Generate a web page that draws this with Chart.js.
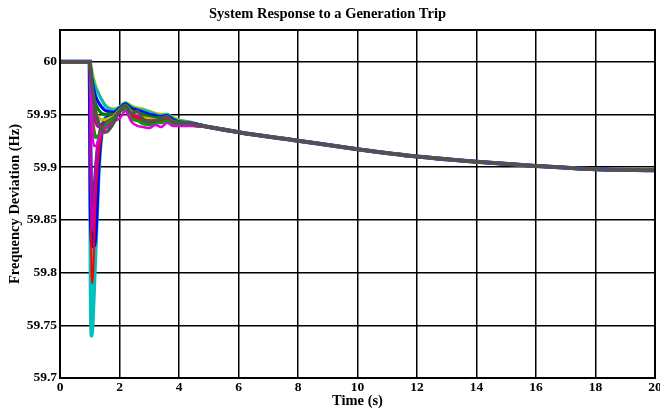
<!DOCTYPE html>
<html lang="en">
<head>
    <meta charset="UTF-8">
    <title>System Response to a Generation Trip</title>
    <script src="https://cdn.jsdelivr.net/npm/chart.js"></script>
    <style>
        body {
            margin: 0;
            background-color: white;
        }
    </style>
</head>
<body>
    <canvas id="freqChart" width="660" height="413"></canvas>

    <script>
        // time points (s) for the transient part, then the slow tail
        const times = [0, 1, 1.03, 1.06, 1.1, 1.15, 1.2, 1.3, 1.4, 1.5, 1.6, 1.8, 2.0, 2.2, 2.4, 2.6, 2.8, 3.0, 3.2, 3.4, 3.6, 3.8, 4.0, 4.3, 4.6];
        const tailTimes = [5, 6, 8, 10, 12, 14, 16, 18, 20];
        const tail = [59.938, 59.933, 59.925, 59.917, 59.910, 59.905, 59.901, 59.898, 59.897];

        const xTicks = [0, 2, 4, 6, 8, 10, 12, 14, 16, 18, 20];
        const yTicks = [59.7, 59.75, 59.8, 59.85, 59.9, 59.95, 60];
        const yTickLabels = ['59.7', '59.75', '59.8', '59.85', '59.9', '59.95', '60'];

        // bus frequencies (Hz)
        const gray = [60, 60, 59.992, 59.982, 59.972, 59.962, 59.952, 59.942, 59.936, 59.933, 59.934, 59.942, 59.953, 59.958, 59.951, 59.953, 59.945, 59.943, 59.944, 59.946, 59.948, 59.943, 59.942, 59.942, 59.940];
        const yellowTop = [60, 60, 59.998, 59.994, 59.988, 59.982, 59.977, 59.970, 59.964, 59.960, 59.957, 59.955, 59.957, 59.961, 59.958, 59.956, 59.955, 59.953, 59.951, 59.950, 59.950, 59.947, 59.945, 59.943, 59.941];
        const cyanTop = [60, 60, 59.996, 59.990, 59.984, 59.979, 59.975, 59.969, 59.964, 59.959, 59.956, 59.954, 59.957, 59.961, 59.957, 59.955, 59.954, 59.952, 59.950, 59.949, 59.950, 59.946, 59.944, 59.943, 59.941];
        const blueTop = [60, 60, 59.994, 59.986, 59.979, 59.972, 59.967, 59.961, 59.957, 59.954, 59.953, 59.952, 59.956, 59.960, 59.956, 59.954, 59.952, 59.950, 59.949, 59.948, 59.949, 59.945, 59.943, 59.942, 59.941];
        const greenTop = [60, 60, 59.992, 59.982, 59.973, 59.965, 59.960, 59.954, 59.951, 59.950, 59.950, 59.950, 59.955, 59.959, 59.954, 59.952, 59.950, 59.948, 59.947, 59.947, 59.948, 59.944, 59.943, 59.942, 59.940];
        const yellowMid = [60, 60, 59.990, 59.977, 59.966, 59.957, 59.952, 59.947, 59.945, 59.945, 59.946, 59.948, 59.954, 59.958, 59.952, 59.950, 59.947, 59.946, 59.945, 59.945, 59.947, 59.943, 59.942, 59.941, 59.940];
        const magentaMid = [60, 60, 59.988, 59.971, 59.957, 59.947, 59.942, 59.938, 59.938, 59.940, 59.943, 59.947, 59.953, 59.957, 59.950, 59.948, 59.945, 59.944, 59.944, 59.944, 59.946, 59.942, 59.941, 59.941, 59.940];
        const redMid = [60, 60, 59.985, 59.962, 59.944, 59.934, 59.929, 59.929, 59.932, 59.936, 59.940, 59.946, 59.953, 59.956, 59.948, 59.946, 59.943, 59.942, 59.943, 59.943, 59.945, 59.941, 59.941, 59.940, 59.939];
        const greenLow = [60, 60, 59.984, 59.957, 59.939, 59.931, 59.928, 59.930, 59.934, 59.938, 59.942, 59.946, 59.952, 59.955, 59.946, 59.944, 59.941, 59.940, 59.942, 59.942, 59.944, 59.940, 59.940, 59.940, 59.939];
        const magentaLow = [60, 60, 59.982, 59.948, 59.928, 59.920, 59.920, 59.926, 59.933, 59.936, 59.938, 59.943, 59.946, 59.953, 59.943, 59.939, 59.938, 59.937, 59.940, 59.938, 59.942, 59.939, 59.939, 59.939, 59.939];
        const redDeep = [60, 60, 59.90, 59.80, 59.79, 59.83, 59.87, 59.912, 59.930, 59.937, 59.941, 59.947, 59.953, 59.956, 59.949, 59.947, 59.944, 59.943, 59.944, 59.944, 59.946, 59.941, 59.941, 59.940, 59.939];
        const magentaDeep = [60, 60, 59.91, 59.85, 59.84, 59.87, 59.90, 59.928, 59.937, 59.941, 59.944, 59.948, 59.954, 59.957, 59.950, 59.948, 59.945, 59.944, 59.944, 59.945, 59.946, 59.942, 59.941, 59.941, 59.940];
        const darkDeep = [60, 60, 59.93, 59.875, 59.865, 59.885, 59.905, 59.93, 59.94, 59.944, 59.946, 59.949, 59.955, 59.958, 59.951, 59.949, 59.946, 59.945, 59.945, 59.946, 59.947, 59.943, 59.942, 59.941, 59.940];
        const blueDeep = [60, 60, 59.87, 59.835, 59.825, 59.826, 59.84, 59.905, 59.935, 59.944, 59.947, 59.950, 59.955, 59.959, 59.953, 59.950, 59.948, 59.946, 59.946, 59.946, 59.948, 59.943, 59.942, 59.941, 59.940];
        const cyanDeep = [60, 60, 59.80, 59.74, 59.755, 59.79, 59.825, 59.895, 59.932, 59.945, 59.949, 59.952, 59.956, 59.960, 59.955, 59.952, 59.950, 59.948, 59.947, 59.947, 59.948, 59.944, 59.943, 59.942, 59.940];

        function toPoints(values) {
            const allTimes = times.concat(tailTimes);
            return values.concat(tail).map((v, i) => ({ x: allTimes[i], y: v }));
        }

        function line(values, color, width) {
            return {
                data: toPoints(values),
                borderColor: color,
                borderWidth: width || 3,
                pointRadius: 0,
                fill: false,
                cubicInterpolationMode: 'monotone'
            };
        }

        // first dataset is drawn on top
        const datasets = [
            line(gray, '#555050', 3.5),
            line(magentaLow, '#e000e0', 2.5),
            line(greenLow, '#00a000'),
            line(redMid, '#ff0000'),
            line(magentaMid, '#bf00bf'),
            line(yellowMid, '#bfbf00'),
            line(greenTop, '#008000'),
            line(blueTop, '#0000ff'),
            line(cyanTop, '#00bfbf'),
            line(yellowTop, '#bfbf00'),
            line(magentaDeep, '#bf00bf', 2.5),
            line(redDeep, '#ff0000', 2),
            line(darkDeep, '#404040', 2.5),
            line(blueDeep, '#0000ff', 4),
            line(cyanDeep, '#00bfbf', 4)
        ];

        const boxPlugin = {
            id: 'box',
            afterDraw(chart) {
                const a = chart.chartArea;
                const ctx = chart.ctx;
                ctx.save();
                ctx.strokeStyle = '#000';
                ctx.lineWidth = 2;
                ctx.strokeRect(a.left, a.top, a.right - a.left, a.bottom - a.top);
                ctx.restore();
            }
        };

        const tickFont = { family: "'Liberation Serif', 'Times New Roman', serif", size: 13.5, weight: 'bold' };
        const labelFont = { family: "'Liberation Serif', 'Times New Roman', serif", size: 14.5, weight: 'bold' };

        new Chart(document.getElementById('freqChart').getContext('2d'), {
            type: 'line',
            data: { datasets: datasets },
            plugins: [boxPlugin],
            options: {
                responsive: false,
                animation: false,
                devicePixelRatio: 1,
                layout: { padding: { left: 0, right: 5, top: 0, bottom: 0 } },
                plugins: {
                    legend: { display: false },
                    tooltip: { enabled: false },
                    title: {
                        display: true,
                        text: 'System Response to a Generation Trip',
                        color: '#000',
                        font: labelFont,
                        padding: { top: 6, bottom: 6.6 }
                    }
                },
                scales: {
                    x: {
                        type: 'linear',
                        min: 0,
                        max: 20,
                        afterBuildTicks: scale => { scale.ticks = xTicks.map(v => ({ value: v })); },
                        afterFit: scale => {
                            scale.height = 35;
                            scale.paddingLeft = 0;
                            scale.paddingRight = 0;
                        },
                        ticks: { color: '#000', font: tickFont, padding: 1, maxRotation: 0 },
                        grid: { color: '#000', lineWidth: 1.5, drawTicks: false },
                        border: { display: false },
                        title: { display: true, text: 'Time (s)', color: '#000', font: labelFont, padding: { top: 0, bottom: 3 } }
                    },
                    y: {
                        min: 59.7,
                        max: 60.03,
                        afterBuildTicks: scale => { scale.ticks = yTicks.map(v => ({ value: v })); },
                        afterFit: scale => { scale.width = 60; },
                        ticks: {
                            color: '#000',
                            font: tickFont,
                            padding: 3,
                            callback: (value) => yTickLabels[yTicks.findIndex(t => Math.abs(t - value) < 1e-6)]
                        },
                        grid: { color: '#000', lineWidth: 1.5, drawTicks: false },
                        border: { display: false },
                        title: { display: true, text: 'Frequency Deviation (Hz)', color: '#000', font: labelFont, padding: { top: 7, bottom: 0 } }
                    }
                }
            }
        });
    </script>
</body>
</html>
